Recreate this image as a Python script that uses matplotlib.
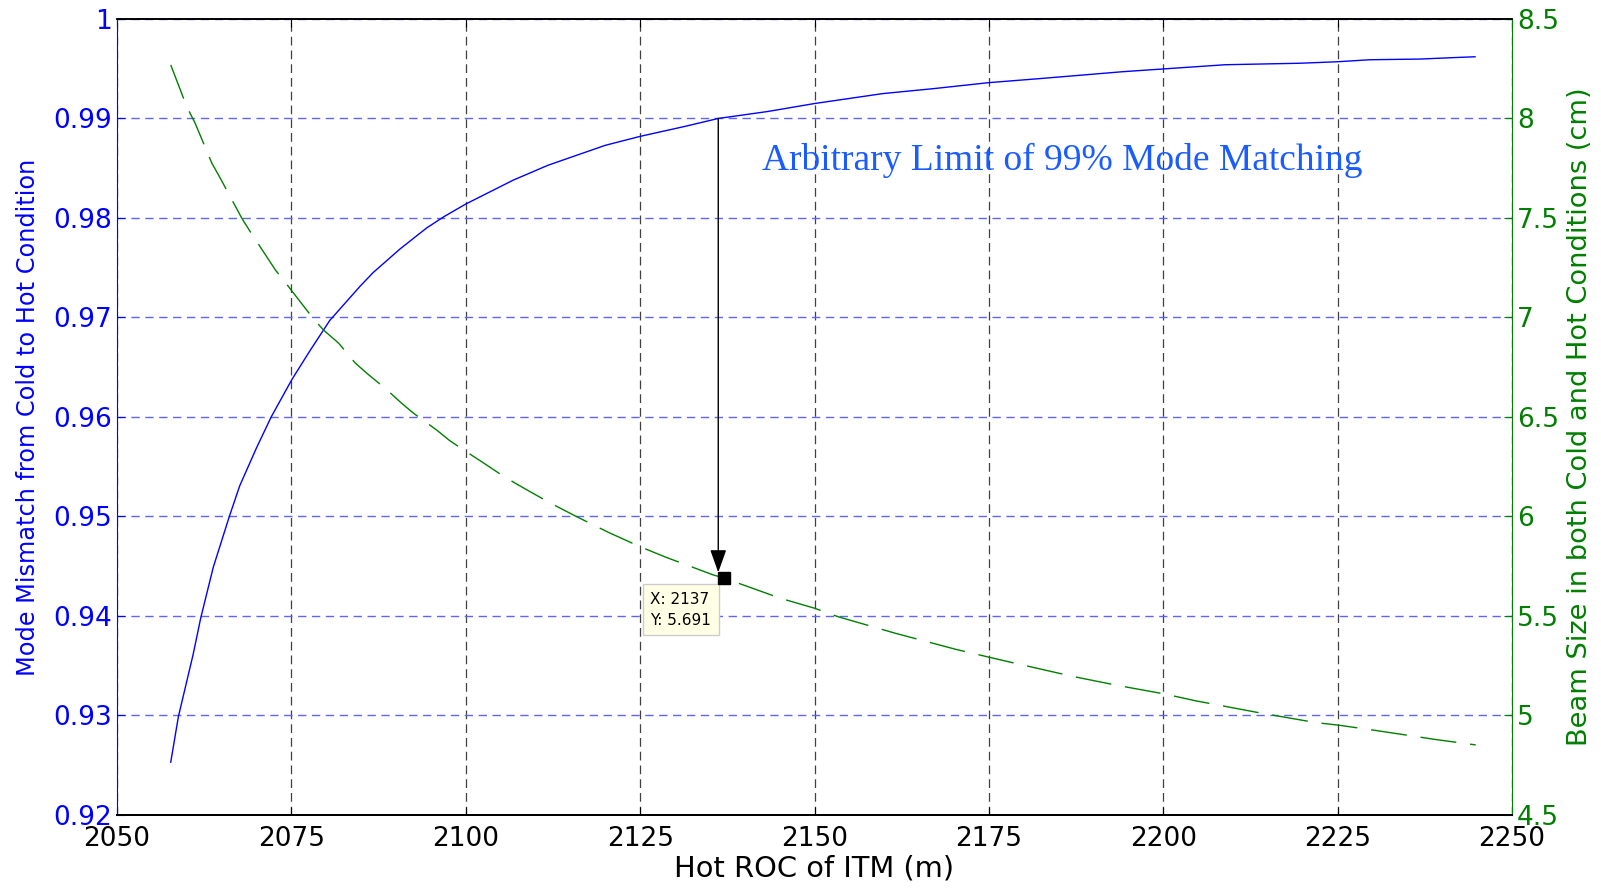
import matplotlib
matplotlib.use("Agg")
import matplotlib.pyplot as plt
from matplotlib.ticker import FuncFormatter

# Hot ROC of the ITM (m) and the cold-to-hot mode matching
roc_hot = [2057.7, 2058.8, 2059.75, 2060.9, 2062.0, 2063.8, 2066.1, 2067.6, 2070.0,
           2072.1, 2075.1, 2077.7, 2080.5, 2084.8, 2086.7, 2090.6, 2094.4, 2096.8,
           2100.0, 2106.8, 2111.8, 2120.0, 2125.0, 2131.4, 2136.2, 2143.3, 2150.0,
           2159.8, 2167.1, 2175.0, 2182.2, 2194.2, 2208.9, 2219.6, 2225.0, 2229.6,
           2236.8, 2241.1, 2244.7]
mode_match = [0.9253, 0.9299, 0.9327, 0.9361, 0.9398, 0.9449, 0.9500, 0.9531, 0.9569,
              0.9600, 0.9638, 0.9667, 0.9697, 0.9731, 0.9745, 0.9769, 0.9790, 0.9801,
              0.9814, 0.9838, 0.9853, 0.9873, 0.9882, 0.9892, 0.9900, 0.9907, 0.9915,
              0.9925, 0.9930, 0.9936, 0.9940, 0.9947, 0.9954, 0.99555, 0.9957, 0.9959,
              0.99597, 0.9961, 0.9962]

# beam size (cm) against the same ROC
roc_beam = [2057.7, 2060.0, 2061.2, 2063.6, 2064.8, 2067.9, 2069.1, 2072.7, 2074.1,
            2078.1, 2079.6, 2081.8, 2084.1, 2085.8, 2088.7, 2090.8, 2092.5, 2095.8,
            2097.7, 2099.7, 2102.5, 2104.9, 2107.1, 2109.2, 2112.2, 2115.9, 2120.4,
            2125.0, 2128.7, 2135.5, 2137.0, 2145.1, 2150.0, 2153.4, 2161.6, 2170.3,
            2175.0, 2178.8, 2187.2, 2193.6, 2200.2, 2204.6, 2213.7, 2221.9, 2225.0,
            2230.6, 2238.9, 2244.8]
beam_size = [8.269, 8.059, 7.976, 7.775, 7.700, 7.498, 7.431, 7.239, 7.177,
             6.996, 6.937, 6.870, 6.773, 6.720, 6.636, 6.569, 6.519, 6.435,
             6.381, 6.334, 6.270, 6.214, 6.167, 6.125, 6.066, 5.999, 5.921,
             5.848, 5.795, 5.706, 5.691, 5.589, 5.539, 5.496, 5.413, 5.332,
             5.293, 5.262, 5.195, 5.150, 5.108, 5.074, 5.014, 4.964, 4.952,
             4.924, 4.880, 4.852]

tip_x, tip_y = 2137, 5.691
limit = 0.99

x_ticks = [2050, 2075, 2100, 2125, 2150, 2175, 2200, 2225, 2250]
left_ticks = [0.92, 0.93, 0.94, 0.95, 0.96, 0.97, 0.98, 0.99, 1.0]
right_ticks = [4.5, 5, 5.5, 6, 6.5, 7, 7.5, 8, 8.5]

BLUE = "#0000ff"
GREEN = "#007f00"

fig = plt.figure(figsize=(16.01, 8.90), dpi=100)
ax1 = fig.add_axes([0.0731, 0.0843, 0.8713, 0.8944])
ax2 = ax1.twinx()

ax1.plot(roc_hot, mode_match, color=BLUE, lw=1.0)
ax2.plot(roc_beam, beam_size, color=GREEN, lw=1.0, dashes=(26, 10))

ax1.set_xlim(2050, 2250)
ax1.set_ylim(0.92, 1.0)
ax2.set_ylim(4.5, 8.5)
ax1.set_xticks(x_ticks)
ax1.set_yticks(left_ticks)
ax2.set_yticks(right_ticks)
ax1.yaxis.set_major_formatter(FuncFormatter(lambda v, p: f"{v:g}"))
ax2.yaxis.set_major_formatter(FuncFormatter(lambda v, p: f"{v:g}"))

ax1.grid(True, axis="x", color="#404040", linestyle=(0, (7, 4)), lw=0.9)
ax1.grid(True, axis="y", color="#6262ff", linestyle=(0, (6, 4)), lw=1.0)
ax1.set_axisbelow(True)

ax1.tick_params(axis="x", direction="in", top=True, labelsize=19, length=6, pad=8)
ax1.tick_params(axis="y", direction="in", colors=BLUE, labelsize=19, length=6)
ax2.tick_params(axis="y", direction="in", colors=GREEN, labelsize=19, length=6)

ax1.spines["left"].set_color(BLUE)
ax2.spines["left"].set_visible(False)
ax2.spines["right"].set_color(GREEN)
ax1.spines["right"].set_visible(False)
for ax in (ax1, ax2):
    ax.spines["bottom"].set_linewidth(1.4)
    ax.spines["top"].set_linewidth(1.2)

ax1.set_xlabel("Hot ROC of ITM (m)", fontsize=20.8, labelpad=2)
ax1.set_ylabel("Mode Mismatch from Cold to Hot Condition", color=BLUE,
               fontsize=17.3, labelpad=10)
ax2.set_ylabel("Beam Size in both Cold and Hot Conditions (cm)", color=GREEN,
               fontsize=19.6, labelpad=6)

ax1.text(2185.5, 0.9858, "Arbitrary Limit of 99% Mode Matching", color="#1a5cff",
         family="Liberation Serif", fontsize=27, ha="center", va="center")

# arrow from the 99% point down to the beam size curve
ax2.annotate("", xy=(tip_x - 0.8, tip_y), xycoords=ax2.transData,
             xytext=(tip_x - 0.8, limit), textcoords=ax1.transData,
             arrowprops=dict(arrowstyle="-|>,head_length=0.7,head_width=0.25",
                             color="black", lw=1.0, mutation_scale=20,
                             shrinkA=0, shrinkB=4))
ax2.plot([tip_x], [tip_y], marker="s", color="black", ms=8, zorder=6)
ax2.annotate(f"X: {tip_x}\nY: {tip_y}", xy=(tip_x, tip_y), xytext=(-53, -10),
             textcoords="offset points", ha="left", va="top", fontsize=11,
             linespacing=1.5,
             bbox=dict(boxstyle="square,pad=0.5", fc="#ffffe6", ec="#cccccc", lw=1))

fig.savefig("out.png", dpi=100)
